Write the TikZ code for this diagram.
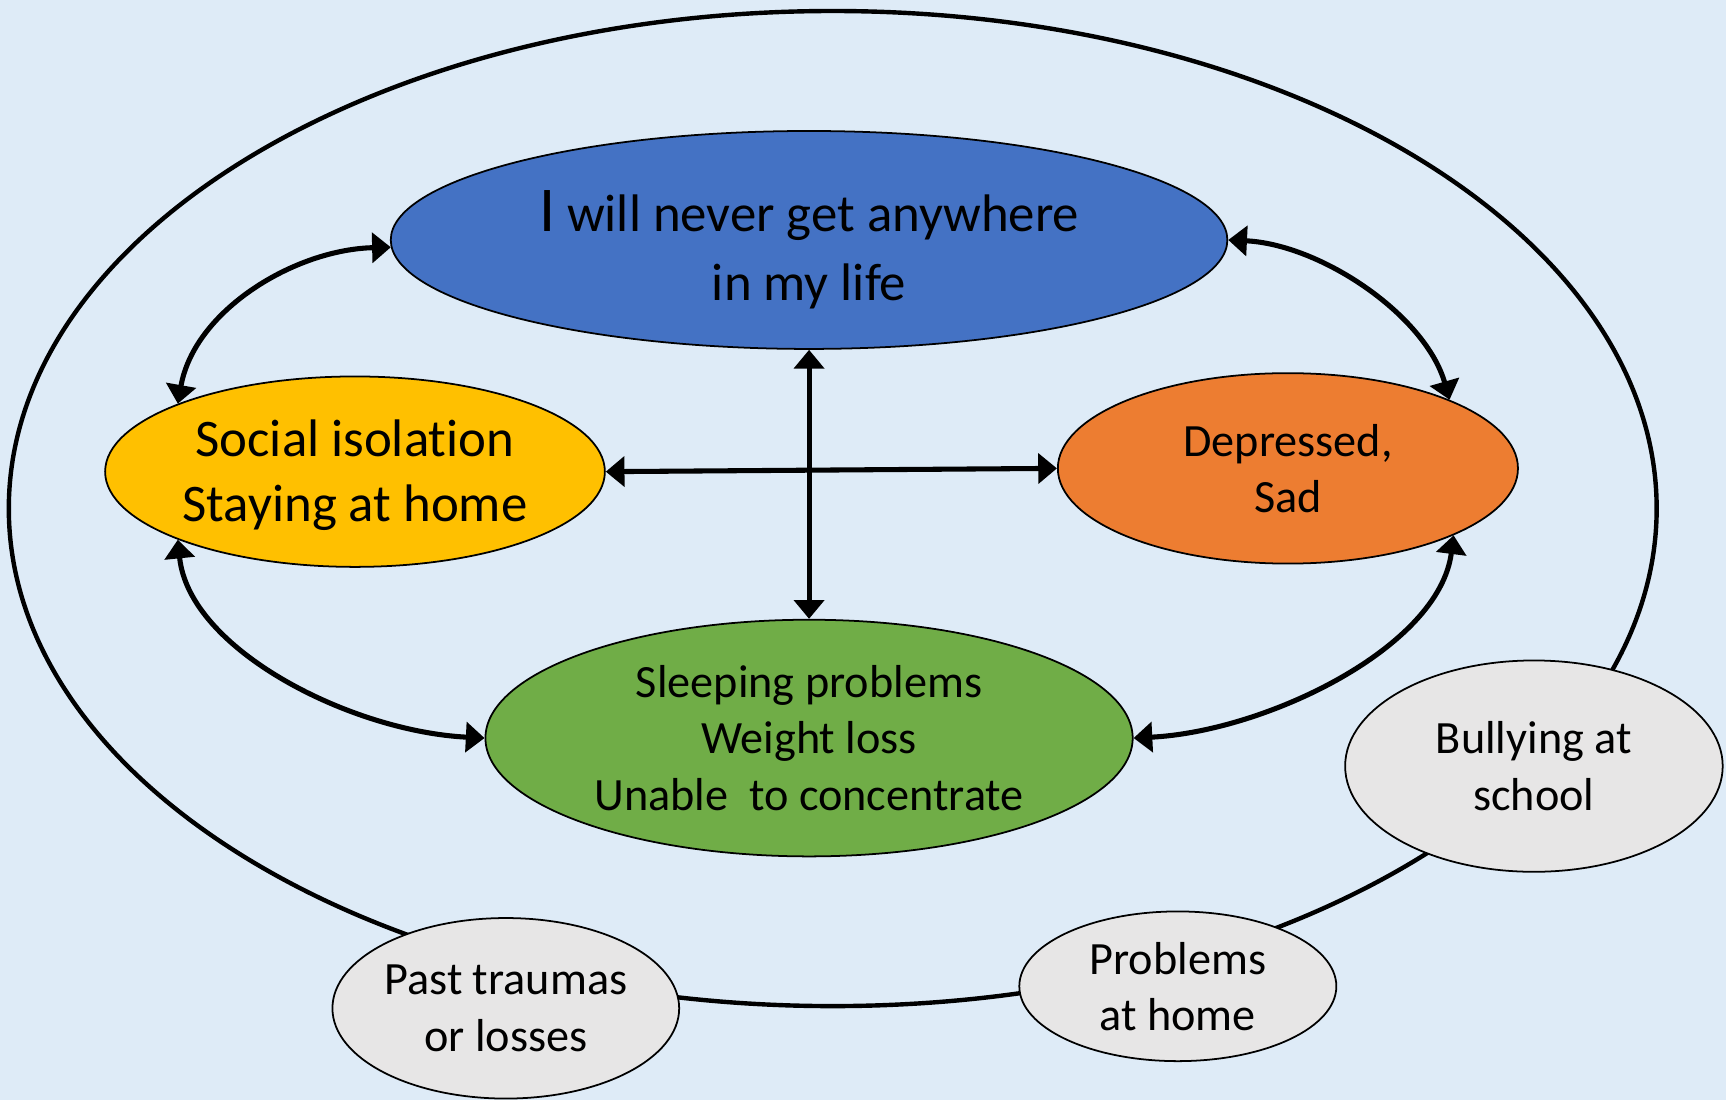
\documentclass[tikz,border=0pt]{standalone}
\usepackage{fontspec}
\setmainfont[Ligatures=NoCommon]{Carlito}
\usetikzlibrary{shapes.geometric,arrows.meta}

\definecolor{bgblue}{RGB}{222,235,247}
\definecolor{thoughtblue}{RGB}{68,114,196}
\definecolor{behaviouryellow}{RGB}{255,192,0}
\definecolor{feelingorange}{RGB}{237,125,49}
\definecolor{bodygreen}{RGB}{112,173,71}
\definecolor{causegray}{RGB}{231,230,230}

\tikzset{
  bubble/.style={ellipse, draw=black, line width=0.8pt, inner sep=-14pt,
                 align=center, text=black},
  smalltext/.style={font=\fontsize{21}{25.5}\selectfont},
  bigtext/.style={font=\fontsize{24}{31}\selectfont},
  cause/.style={bubble, fill=causegray, smalltext},
  conn/.style={line width=2.3pt,
               {Triangle[length=8.5pt,width=13.5pt]}-{Triangle[length=8.5pt,width=13.5pt]}},
  ring/.style={ellipse, draw=black, line width=2pt, inner sep=0pt}
}

\begin{document}
\begin{tikzpicture}[x=0.5pt,y=-0.5pt]
  % page and background
  \fill[bgblue] (0,0) rectangle (1568,999);
  \useasboundingbox (0,0) rectangle (1568,999);

  % outer ring of contributing factors
  \node[ring, minimum width=748.5pt, minimum height=452pt] (ring) at (756.5,462) {};

  % inner cycle
  \node[bubble, fill=thoughtblue, minimum width=380pt, minimum height=99pt,
        label={[bigtext, align=center, yshift=-4.5pt]center:%
          {\fontsize{29}{31}\selectfont I} will never get anywhere\\in my life}]
    (thought) at (735,218) {};
  \node[bubble, fill=behaviouryellow, font=\fontsize{24}{29.5}\selectfont,
        minimum width=227pt, minimum height=86.5pt,
        label={[font=\fontsize{24}{29.5}\selectfont, align=center, yshift=-1.5pt]center:%
          Social isolation\\Staying at home}]
    (behaviour) at (322.5,428.5) {};
  \node[bubble, fill=feelingorange, smalltext, minimum width=209pt, minimum height=86.5pt]
    (feeling) at (1170,425.5) {Depressed,\\Sad};
  \node[bubble, fill=bodygreen, smalltext, minimum width=294pt, minimum height=107.5pt]
    (body) at (735,670.5) {Sleeping problems\\Weight loss\\Unable\ \ to concentrate};

  % contributing factors on the ring
  \node[cause, minimum width=171.5pt, minimum height=96pt]
    (bullying) at (1393.5,696) {Bullying at\\school};
  \node[cause, minimum width=144pt, minimum height=68pt]
    (home) at (1070,896) {Problems\\at home};
  \node[cause, minimum width=157.5pt, minimum height=82pt]
    (past) at (459.5,916) {Past traumas\\or losses};

  % two-way links
  \draw[conn] (behaviour.159) .. controls +(15,-85) and +(-87,2) .. (thought.181);
  \draw[conn] (thought.east) .. controls +(84,4) and +(-22,-77) .. (feeling.23.5);
  \draw[conn] (behaviour.201) .. controls +(10,100) and +(-121,-6) .. (body.west);
  \draw[conn] (feeling.-22.6) .. controls +(-13,102) and +(120,-6) .. (body.east);
  \draw[conn] (thought.south) -- (body.north);
  \draw[conn] (behaviour.east) -- (feeling.west);
\end{tikzpicture}
\end{document}
